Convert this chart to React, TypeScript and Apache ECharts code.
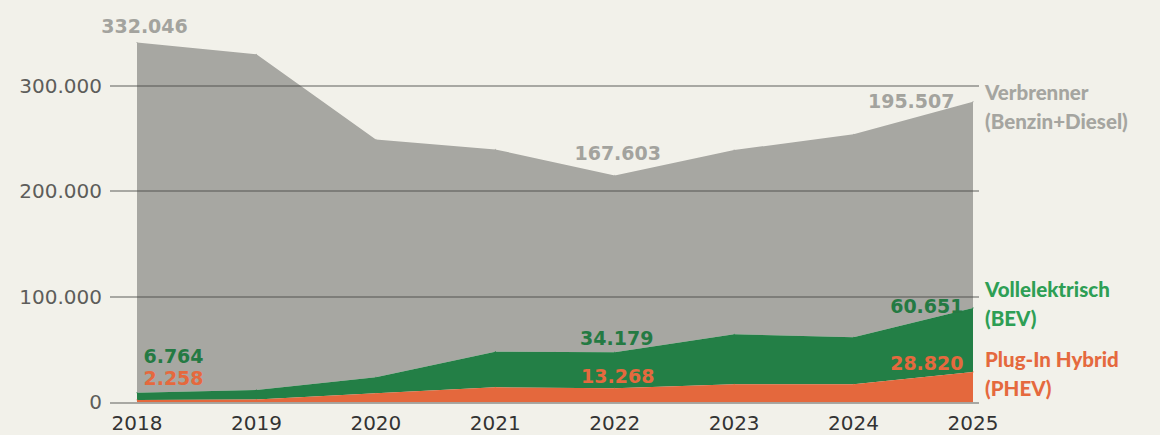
import React, { useEffect, useRef } from "react";
import * as echarts from "echarts";

const years = ["2018", "2019", "2020", "2021", "2022", "2023", "2024", "2025"];
const phev = [2258, 2600, 8500, 14200, 13268, 17000, 17000, 28820];
const bev = [6764, 9100, 15200, 33800, 34179, 47400, 44600, 60651];
const verbrenner = [332046, 318100, 225500, 191700, 167603, 174700, 192400, 195507];
const yTicks = [0, 100000, 200000, 300000];

const BG = "#f2f1ea";
const GRAY = "#a7a7a2";
const GREEN = "#237f46";
const ORANGE = "#e4683d";

const fmt = (v: number) => String(Math.round(v)).replace(/\B(?=(\d{3})+(?!\d))/g, ".");

const numFont = { fontFamily: "DejaVu Sans", fontWeight: "bold" as const, fontSize: 19 };

function withLabels(values: number[], labels: Record<number, any>, color: string) {
  return values.map((v, i) =>
    labels[i]
      ? { value: v, label: { show: true, color, ...numFont, formatter: () => fmt(v), ...labels[i] } }
      : v
  );
}

export default function App() {
  const ref = useRef<HTMLDivElement>(null);
  useEffect(() => {
    if (!ref.current) return;
    const chart = echarts.init(ref.current, null, { renderer: "svg" });
    const labelText = (text: string, y: number, color: string) => ({
      type: "text",
      x: 985,
      y,
      style: { text, fill: color, font: "900 20.5px Lato", textAlign: "left", textVerticalAlign: "middle" },
    });
    chart.setOption({
      animation: false,
      backgroundColor: BG,
      grid: [
        { left: 137, right: 187, top: 33.05, bottom: 32.7 },
        { left: 110, right: 181, top: 85.7, bottom: 32.7 },
      ],
      xAxis: [
        {
          type: "category",
          gridIndex: 0,
          data: years,
          boundaryGap: false,
          axisLine: { show: false },
          axisTick: { show: false },
          axisLabel: { color: "#333333", fontFamily: "DejaVu Sans", fontSize: 20, margin: 11 },
        },
        { type: "value", gridIndex: 1, show: false, min: 0, max: 1 },
      ],
      yAxis: [
        { type: "value", gridIndex: 0, min: 0, max: 350000, show: false },
        {
          type: "value",
          gridIndex: 1,
          min: yTicks[0],
          max: yTicks[yTicks.length - 1],
          interval: 100000,
          z: 10,
          axisLine: { show: false },
          axisTick: { show: false },
          axisLabel: {
            color: "#5d5d5a",
            fontFamily: "DejaVu Sans",
            fontSize: 20,
            margin: 8,
            formatter: (v: number) => fmt(v),
          },
          splitLine: { show: true, lineStyle: { color: "rgba(68,68,66,0.57)", width: 1.5 } },
        },
      ],
      series: [
        {
          name: "Plug-In Hybrid (PHEV)",
          type: "line",
          stack: "total",
          z: 4,
          symbol: "circle",
          symbolSize: 1,
          itemStyle: { color: ORANGE },
          lineStyle: { width: 0 },
          areaStyle: { color: ORANGE, opacity: 1 },
          data: withLabels(
            phev,
            {
              0: { position: "top", distance: 5, offset: [36.5, -6.6] },
              4: { position: "top", distance: 2.5, offset: [3, 0] },
              7: { position: "left", distance: 9, offset: [0, -9] },
            },
            "#e5693e"
          ),
        },
        {
          name: "Vollelektrisch (BEV)",
          type: "line",
          stack: "total",
          z: 3,
          symbol: "circle",
          symbolSize: 1,
          itemStyle: { color: GREEN },
          lineStyle: { width: 0 },
          areaStyle: { color: GREEN, opacity: 1 },
          data: withLabels(
            bev,
            {
              0: { position: "top", distance: 5, offset: [36.5, -21.9] },
              4: { position: "top", distance: 4, offset: [2, 0] },
              7: { position: "left", distance: 9, offset: [0, -2] },
            },
            "#247a43"
          ),
        },
        {
          name: "Verbrenner (Benzin+Diesel)",
          type: "line",
          stack: "total",
          z: 2,
          symbol: "circle",
          symbolSize: 1,
          itemStyle: { color: GRAY },
          lineStyle: { width: 0 },
          areaStyle: { color: GRAY, opacity: 1 },
          data: withLabels(
            verbrenner,
            {
              0: { position: "top", distance: 6, offset: [7.5, 0] },
              4: { position: "top", distance: 12, offset: [3, 0] },
              7: { position: "left", distance: 18, offset: [0, -1] },
            },
            "#a3a39e"
          ),
        },
      ],
      graphic: [
        labelText("Verbrenner", 91.6, "#a5a5a0"),
        labelText("(Benzin+Diesel)", 121.3, "#a5a5a0"),
        labelText("Vollelektrisch", 289.3, "#2e9f55"),
        labelText("(BEV)", 317.6, "#2e9f55"),
        labelText("Plug-In Hybrid", 359.3, "#e5693e"),
        labelText("(PHEV)", 387.6, "#e5693e"),
      ],
    });
    return () => chart.dispose();
  }, []);
  return (
    <div
      ref={ref}
      style={{ position: "absolute", left: 0, top: 0, width: 1160, height: 435, background: BG }}
    />
  );
}
